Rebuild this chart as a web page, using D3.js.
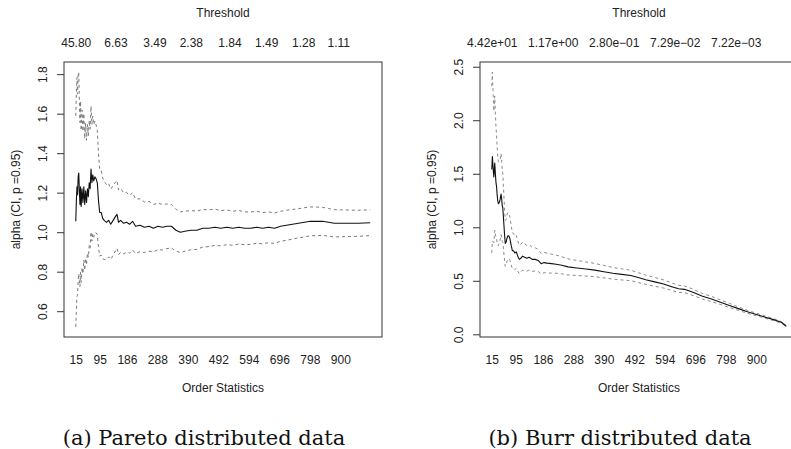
<!DOCTYPE html>
<html>
<head>
<meta charset="utf-8">
<script src="https://cdn.jsdelivr.net/npm/d3@7/dist/d3.min.js"></script>
<style>
  html, body { margin: 0; padding: 0; background: #fff; }
  svg { display: block; font-family: "Liberation Sans", Arial, sans-serif; }
</style>
</head>
<body>
<svg id="chart" width="791" height="449"></svg>
<script>
// ── Hill plots: alpha estimate with 95% CI against number of order statistics ──

const orderTicks = [15, 95, 186, 288, 390, 492, 594, 696, 798, 900];

// (a) Pareto
const paretoYTicks = [0.6, 0.8, 1.0, 1.2, 1.4, 1.6, 1.8];
const paretoThreshK = [15, 148, 278, 400, 529, 652, 776, 893];
const paretoThreshLabels = ['45.80', '6.63', '3.49', '2.38', '1.84', '1.49', '1.28', '1.11'];
const paretoK = [15, 17, 19, 21, 23, 25, 27, 29, 31, 33, 36, 39, 42, 45, 48, 51, 54, 57, 60, 63,
  66, 69, 72, 75, 79, 83, 87, 91, 95, 100, 105, 110, 118, 125, 132, 140, 148, 153, 158, 165,
  175, 185, 195, 205, 215, 230, 245, 260, 275, 290, 305, 320, 335, 350, 365, 380, 400, 420, 440, 460,
  480, 500, 520, 540, 560, 580, 600, 620, 640, 660, 680, 700, 720, 740, 760, 780, 800, 820, 840, 860,
  880, 900, 930, 960, 1000];
const paretoAlpha = [1.055, 1.16, 1.23, 1.19, 1.28, 1.30, 1.21, 1.14, 1.23, 1.13, 1.22, 1.15, 1.23, 1.14, 1.21, 1.15, 1.22, 1.18, 1.25, 1.22,
  1.32, 1.25, 1.29, 1.26, 1.28, 1.27, 1.25, 1.16, 1.10, 1.10, 1.07, 1.06, 1.05, 1.06, 1.04, 1.06, 1.08, 1.09, 1.05, 1.06,
  1.045, 1.05, 1.04, 1.055, 1.03, 1.035, 1.025, 1.03, 1.02, 1.03, 1.025, 1.03, 1.03, 1.01, 1.0, 1.005, 1.01, 1.01, 1.02, 1.02,
  1.025, 1.02, 1.025, 1.02, 1.025, 1.02, 1.02, 1.025, 1.02, 1.025, 1.02, 1.03, 1.035, 1.04, 1.045, 1.05, 1.055, 1.055, 1.055, 1.05,
  1.045, 1.045, 1.045, 1.045, 1.048];
const paretoUpper = [1.589, 1.711, 1.784, 1.699, 1.804, 1.810, 1.666, 1.555, 1.663, 1.515, 1.619, 1.511, 1.601, 1.473, 1.552, 1.465, 1.546, 1.487, 1.566, 1.521,
  1.638, 1.545, 1.588, 1.545, 1.563, 1.543, 1.513, 1.398, 1.321, 1.316, 1.274, 1.258, 1.239, 1.246, 1.218, 1.236, 1.254, 1.262, 1.214, 1.222,
  1.200, 1.201, 1.186, 1.200, 1.168, 1.169, 1.153, 1.156, 1.140, 1.148, 1.140, 1.143, 1.140, 1.116, 1.103, 1.107, 1.109, 1.107, 1.115, 1.113,
  1.117, 1.109, 1.113, 1.106, 1.110, 1.103, 1.102, 1.106, 1.099, 1.103, 1.097, 1.106, 1.111, 1.115, 1.119, 1.124, 1.128, 1.127, 1.126, 1.120,
  1.114, 1.113, 1.112, 1.111, 1.113];
const paretoLower = [0.521, 0.609, 0.677, 0.681, 0.756, 0.790, 0.754, 0.725, 0.797, 0.745, 0.821, 0.789, 0.859, 0.807, 0.868, 0.835, 0.894, 0.873, 0.934, 0.919,
  1.002, 0.955, 0.992, 0.975, 0.997, 0.997, 0.988, 0.922, 0.879, 0.884, 0.866, 0.862, 0.861, 0.875, 0.862, 0.884, 0.906, 0.918, 0.886, 0.898,
  0.890, 0.899, 0.894, 0.910, 0.892, 0.901, 0.897, 0.904, 0.900, 0.912, 0.910, 0.917, 0.920, 0.904, 0.897, 0.904, 0.911, 0.913, 0.925, 0.927,
  0.933, 0.931, 0.937, 0.934, 0.940, 0.937, 0.938, 0.944, 0.941, 0.947, 0.943, 0.954, 0.959, 0.965, 0.971, 0.976, 0.982, 0.983, 0.984, 0.980,
  0.976, 0.977, 0.978, 0.979, 0.983];

// (b) Burr
const burrYTicks = [0.0, 0.5, 1.0, 1.5, 2.0, 2.5];
const burrThreshK = [15, 219, 423, 627, 831];
const burrThreshLabels = ['4.42e+01', '1.17e+00', '2.80e\u221201', '7.29e\u221202', '7.22e\u221203'];
const burrK = [15, 16, 17, 19, 21, 22, 24, 25, 27, 29, 31, 33, 35, 37, 40, 43, 46, 48, 50, 52,
  55, 58, 60, 63, 66, 69, 72, 76, 80, 84, 88, 92, 97, 102, 107, 112, 118, 125, 132, 140,
  150, 160, 170, 180, 190, 200, 215, 230, 249, 270, 300, 330, 360, 390, 420, 450, 480, 505, 530, 560,
  590, 617, 640, 660, 690, 720, 750, 780, 810, 840, 870, 900, 930, 960, 985, 1000];
const burrAlpha = [1.54, 1.60, 1.66, 1.58, 1.50, 1.47, 1.56, 1.60, 1.50, 1.42, 1.38, 1.30, 1.25, 1.22, 1.23, 1.26, 1.31, 1.27, 1.20, 1.18,
  1.05, 0.92, 0.85, 0.86, 0.90, 0.92, 0.92, 0.89, 0.83, 0.78, 0.78, 0.76, 0.77, 0.73, 0.70, 0.71, 0.73, 0.72, 0.71, 0.72,
  0.70, 0.70, 0.69, 0.66, 0.67, 0.665, 0.66, 0.655, 0.645, 0.63, 0.62, 0.61, 0.60, 0.585, 0.57, 0.56, 0.55, 0.53, 0.51, 0.49,
  0.47, 0.445, 0.425, 0.42, 0.39, 0.355, 0.33, 0.30, 0.27, 0.24, 0.21, 0.185, 0.16, 0.135, 0.11, 0.075];
const burrUpper = [2.319, 2.384, 2.449, 2.291, 2.142, 2.084, 2.184, 2.227, 2.066, 1.937, 1.866, 1.743, 1.664, 1.613, 1.611, 1.637, 1.689, 1.629, 1.532, 1.501,
  1.327, 1.156, 1.065, 1.072, 1.117, 1.137, 1.133, 1.090, 1.012, 0.947, 0.943, 0.915, 0.923, 0.872, 0.832, 0.841, 0.861, 0.846, 0.831, 0.839,
  0.812, 0.809, 0.794, 0.756, 0.765, 0.757, 0.748, 0.740, 0.725, 0.705, 0.690, 0.676, 0.662, 0.643, 0.624, 0.612, 0.599, 0.576, 0.553, 0.531,
  0.508, 0.480, 0.458, 0.452, 0.419, 0.381, 0.354, 0.321, 0.289, 0.256, 0.224, 0.197, 0.170, 0.144, 0.117, 0.080];
const burrLower = [0.761, 0.816, 0.871, 0.869, 0.858, 0.856, 0.936, 0.973, 0.935, 0.903, 0.894, 0.857, 0.836, 0.827, 0.849, 0.883, 0.931, 0.911, 0.868, 0.859,
  0.773, 0.684, 0.635, 0.648, 0.683, 0.703, 0.707, 0.690, 0.648, 0.613, 0.617, 0.605, 0.617, 0.588, 0.568, 0.579, 0.599, 0.594, 0.589, 0.601,
  0.588, 0.592, 0.587, 0.564, 0.575, 0.573, 0.572, 0.571, 0.565, 0.555, 0.550, 0.544, 0.538, 0.527, 0.516, 0.508, 0.501, 0.484, 0.467, 0.449,
  0.432, 0.410, 0.392, 0.388, 0.361, 0.329, 0.306, 0.279, 0.251, 0.224, 0.196, 0.173, 0.150, 0.126, 0.103, 0.070];

const panels = [
  { left: 0, k: paretoK, alpha: paretoAlpha, upper: paretoUpper, lower: paretoLower,
    yTicks: paretoYTicks, threshK: paretoThreshK, threshLabels: paretoThreshLabels,
    dash: '#7a7a7a', caption: '(a) Pareto distributed data' },
  { left: 416, k: burrK, alpha: burrAlpha, upper: burrUpper, lower: burrLower,
    yTicks: burrYTicks, threshK: burrThreshK, threshLabels: burrThreshLabels,
    dash: '#8a8a8a', caption: '(b) Burr distributed data' },
];

const box = { x0: 64, x1: 382, y0: 62, y1: 337 };
const textCol = '#222';
const svg = d3.select('#chart');

// R style axis range: data range stretched by 4% on both sides
function rRange(lo, hi) {
  const pad = (hi - lo) * 0.04;
  return [lo - pad, hi + pad];
}

panels.forEach(p => {
  const g = svg.append('g').attr('transform', `translate(${p.left},0)`);

  const x = d3.scaleLinear()
    .domain(rRange(d3.min(p.k), d3.max(p.k)))
    .range([box.x0, box.x1]);
  const y = d3.scaleLinear()
    .domain(rRange(d3.min(p.lower), d3.max(p.upper)))
    .range([box.y1, box.y0]);

  const line = vals => d3.line()
    .x((d, i) => x(p.k[i]))
    .y(d => y(d))(vals);

  // CI lines (dashed) then estimate
  [p.upper, p.lower].forEach(vals => {
    g.append('path')
      .attr('d', line(vals))
      .attr('fill', 'none')
      .attr('stroke', p.dash)
      .attr('stroke-width', 1)
      .attr('stroke-dasharray', '3,3');
  });
  g.append('path')
    .attr('d', line(p.alpha))
    .attr('fill', 'none')
    .attr('stroke', '#111')
    .attr('stroke-width', 1.1)
    .attr('stroke-linejoin', 'round');

  // box
  g.append('rect')
    .attr('x', box.x0).attr('y', box.y0)
    .attr('width', box.x1 - box.x0).attr('height', box.y1 - box.y0)
    .attr('fill', 'none').attr('stroke', '#333').attr('stroke-width', 1);

  // left axis, labels parallel to the axis
  const ya = g.append('g')
    .attr('transform', `translate(${box.x0},0)`)
    .call(d3.axisLeft(y).tickValues(p.yTicks).tickSize(7).tickFormat(d3.format('.1f')));
  ya.select('.domain').remove();
  ya.selectAll('line').attr('stroke', '#333');
  ya.selectAll('text')
    .attr('transform', 'rotate(-90)')
    .attr('x', 0).attr('y', -17).attr('dy', null)
    .attr('text-anchor', 'middle')
    .attr('fill', textCol)
    .style('font-size', '12px');

  // bottom axis (no ticks)
  const xa = g.append('g')
    .attr('transform', `translate(0,${box.y1})`)
    .call(d3.axisBottom(x).tickValues(orderTicks).tickSize(0));
  xa.select('.domain').remove();
  xa.selectAll('text')
    .attr('y', 27).attr('dy', null)
    .attr('fill', textCol)
    .style('font-size', '12px');

  // top axis: thresholds (no ticks)
  const ta = g.append('g')
    .attr('transform', `translate(0,${box.y0})`)
    .call(d3.axisTop(x).tickValues(p.threshK).tickSize(0)
      .tickFormat((d, i) => p.threshLabels[i]));
  ta.select('.domain').remove();
  ta.selectAll('text')
    .attr('y', -15).attr('dy', null)
    .attr('fill', textCol)
    .style('font-size', '12px');

  const cx = (box.x0 + box.x1) / 2;
  const cy = (box.y0 + box.y1) / 2;

  g.append('text')
    .attr('x', cx).attr('y', 17)
    .attr('text-anchor', 'middle')
    .attr('fill', textCol).style('font-size', '12px')
    .text('Threshold');

  g.append('text')
    .attr('x', cx).attr('y', 392)
    .attr('text-anchor', 'middle')
    .attr('fill', textCol).style('font-size', '12px')
    .text('Order Statistics');

  g.append('text')
    .attr('transform', `translate(19.5,${cy}) rotate(-90)`)
    .attr('text-anchor', 'middle')
    .attr('fill', textCol).style('font-size', '12px')
    .text('alpha (CI, p =0.95)');

  // sub-caption
  g.append('text')
    .attr('x', cx - 19).attr('y', 445)
    .attr('text-anchor', 'middle')
    .attr('fill', '#111')
    .style('font-family', '"DejaVu Serif", serif')
    .style('font-size', '21px')
    .text(p.caption);
});
</script>
</body>
</html>
